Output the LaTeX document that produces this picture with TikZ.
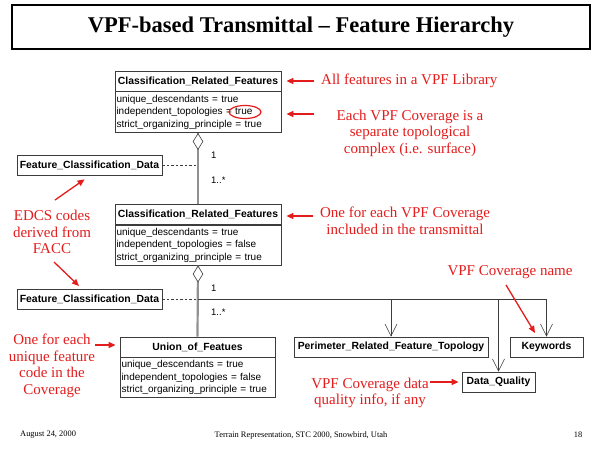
\documentclass[tikz,border=0pt]{standalone}
\usepackage{fontspec}
\setmainfont{Liberation Serif}
\setsansfont{Liberation Sans}
\usetikzlibrary{arrows.meta,shapes.geometric}
\definecolor{annot}{RGB}{228,28,28}
\definecolor{umlgray}{RGB}{145,145,145}
\definecolor{umlline}{RGB}{60,60,60}
\begin{document}
\begin{tikzpicture}[x=1pt,y=-1pt,
  head/.style={draw=umlline, line width=0.8pt, fill=white, font=\sffamily\bfseries\fontsize{10.4}{12}\selectfont, inner sep=0pt, minimum height=20pt},
  body/.style={draw=umlline, line width=0.8pt, fill=white, font=\sffamily\fontsize{10}{12.6}\selectfont, align=left, inner xsep=1.5pt, inner ysep=0pt, anchor=north west},
  note/.style={text=annot, font=\fontsize{15}{16.5}\selectfont, align=center, inner sep=0pt},
  redarrow/.style={draw=annot, line width=1.3pt, -{Triangle[length=7pt,width=6pt]}},
  agg/.style={draw=umlgray, line width=2.2pt},
  dep/.style={draw=umlline, line width=0.6pt, dash pattern=on 2.5pt off 2pt},
  gen/.style={draw=umlline, line width=0.6pt, -{Straight Barb[length=12pt,width=12pt,line width=0.6pt]}},
  diam/.style={diamond, draw=umlline, fill=white, line width=0.6pt, inner sep=0pt, minimum width=10pt, minimum height=16pt},
  mult/.style={font=\sffamily\fontsize{9.5}{10}\selectfont, anchor=west, inner sep=0pt},
  foot/.style={font=\fontsize{8.4}{9}\selectfont, inner sep=0pt}
]
\useasboundingbox (0,0) rectangle (600,450);
\fill[white] (0,0) rectangle (600,450);

% title
\node[draw, line width=1.4pt, minimum width=578pt, minimum height=44pt, font=\bfseries\fontsize{22.5}{26}\selectfont] (title) at (301,27) {VPF-based Transmittal – Feature Hierarchy};

% class 1
\node[head, minimum width=166pt] (c1h) at (198,81) {Classification\_Related\_Features};
\node[body, minimum height=41pt, text width=163pt] (c1b) at (c1h.south west) {unique\_descendants = true\\independent\_topologies = true\\strict\_organizing\_principle = true};

% class 2
\node[head, minimum width=166pt] (c2h) at (198,214.5) {Classification\_Related\_Features};
\node[body, minimum height=40pt, text width=163pt] (c2b) at (c2h.south west) {unique\_descendants = true\\independent\_topologies = false\\strict\_organizing\_principle = true};

% union
\node[head, minimum width=155pt] (uh) at (197.5,347) {Union\_of\_Featues};
\node[body, minimum height=40pt, text width=152pt] (ub) at (uh.south west) {unique\_descendants = true\\independent\_topologies = false\\strict\_organizing\_principle = true};

% feature classification data
\node[head, minimum width=145pt] (f1) at (89.5,165.5) {Feature\_Classification\_Data};
\node[head, minimum width=145pt] (f2) at (89.5,299) {Feature\_Classification\_Data};

% leaves
\node[head, minimum width=194pt] (per) at (391,347) {Perimeter\_Related\_Feature\_Topology};
\node[head, minimum width=73pt] (kw) at (546.5,347) {Keywords};
\node[head, minimum width=73pt] (dq) at (498.5,382) {Data\_Quality};

% aggregations
\draw[agg] (c1b.south) -- (c2h.north);
\draw[agg] (c2b.south) -- (uh.north);
\node[diam, anchor=north] (d1) at (c1b.south) {};
\node[diam, anchor=north] (d2) at (c2b.south) {};
\node[mult] (m1a) at (211,155) {1};
\node[mult] (m1b) at (211,180) {1..*};
\node[mult] (m2a) at (211,288) {1};
\node[mult] (m2b) at (211,312) {1..*};

% dependencies
\draw[dep] (f1.east) -- (f1.east -| d1.south);
\draw[dep] (f2.east) -- (f2.east -| d2.south);

% association branches
\draw[gen] (f2.east -| d2.south) -| (kw.north);
\draw[gen] (f2.east -| per.north) -- (per.north);
\draw[gen] (f2.east -| dq.north) -- (dq.north);

% annotations
\node[draw=annot, ellipse, line width=1.2pt, minimum width=32pt, minimum height=13pt, inner sep=0pt] (ring) at (245,112) {};

\node[note, anchor=west] (n1) at (321,81) {All features in a VPF Library};
\draw[redarrow, shorten <=7pt, shorten >=5pt] (n1.west) -- (c1h.east);

\node[note] (n2) at (410,133) {Each VPF Coverage is a\\separate topological\\complex (i.e. surface)};
\coordinate (a2) at (314,114);
\draw[redarrow, shorten >=5pt] (a2) -- (c1b.east |- a2);

\node[note] (n3) at (405,221) {One for each VPF Coverage\\included in the transmittal};
\coordinate (a3) at (313,216);
\draw[redarrow, shorten >=5pt] (a3) -- (c2h.east |- a3);

\node[note] (n4) at (52,232) {EDCS codes\\derived from\\FACC};
\coordinate (a4) at (55,200);
\draw[redarrow, shorten >=6pt] (a4) -- (f1.south);
\coordinate (a5s) at (54,262);
\coordinate (a5e) at (79,286);
\draw[redarrow] (a5s) -- (a5e);

\node[note] (n5) at (52,366) {One for each\\unique feature\\code in the\\Coverage};
\coordinate (a6) at (95,345);
\draw[redarrow, shorten >=4pt] (a6) -- (uh.west |- a6);

\node[note] (n6) at (510,272) {VPF Coverage name};
\coordinate (a7s) at (506,285);
\coordinate (a7e) at (535,333);
\draw[redarrow] (a7s) -- (a7e);

\node[note] (n7) at (370,393) {VPF Coverage data\\quality info, if any};
\coordinate (a8) at (430,382);
\draw[redarrow, shorten >=3pt] (a8) -- (dq.west |- a8);

% footer
\node[foot, anchor=west] (ft1) at (20,435) {August 24, 2000};
\node[foot] (ft2) at (301,435) {Terrain Representation, STC 2000, Snowbird, Utah};
\node[foot] (ft3) at (578,435) {18};
\end{tikzpicture}
\end{document}
